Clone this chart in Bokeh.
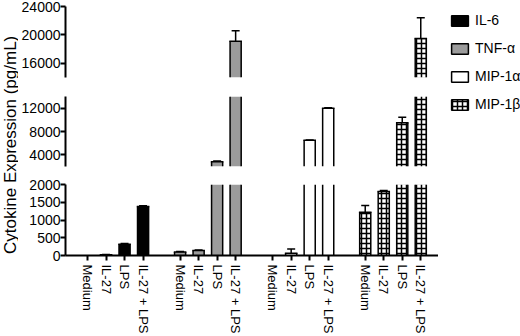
import math
from bokeh.plotting import figure
from bokeh.layouts import row, column
from bokeh.models import (FixedTicker, Range1d, Legend, LegendItem, Label, Spacer)
from bokeh.embed import file_html
from bokeh.resources import INLINE

# ---------------- data ----------------
treatments = ["Medium", "IL-27", "LPS", "IL-27 + LPS"]
cytokines = ["IL-6", "TNF-\u03b1", "MIP-1\u03b1", "MIP-1\u03b2"]

il6 = [0, 20, 320, 1380]
il6_err = [0, 5, 20, 20]
tnf = [100, 140, 2800, 19100]
tnf_err = [10, 15, 150, 1500]
mip1a = [0, 60, 6500, 12000]
mip1a_err = [0, 120, 60, 80]
mip1b = [1220, 1800, 9500, 19500]
mip1b_err = [190, 30, 950, 2900]

series_values = [il6, tnf, mip1a, mip1b]
series_errors = [il6_err, tnf_err, mip1a_err, mip1b_err]

top_range = (14000, 24000)
mid_range = (2000, 14000)
bot_range = (0, 2000)
top_ticks = [16000, 20000, 24000]
mid_ticks = [4000, 8000, 12000]
bot_ticks = [0, 500, 1000, 1500, 2000]

y_title = "Cytokine  Expression (pg/mL)"

# ---------------- styles ----------------
FONT = "Liberation Sans"
fills = ["black", "#9b9b9b", "white", "white"]
hatches = [None, None, None, "cross"]
BAR_W = 0.6
LW = 1.5

n_t = len(treatments)
group_step = n_t + 1
series_x = [[s * group_step + i for i in range(n_t)] for s in range(len(cytokines))]
all_x = [x for xs in series_x for x in xs]
labels = {x: treatments[i] for xs in series_x for i, x in enumerate(xs)}

x_range = Range1d(-1.19, all_x[-1] + 1.12)

FRAME_W = 376
LEFT_B = 44


def fill_kwargs(s):
    kw = dict(fill_color=fills[s])
    if hatches[s]:
        kw.update(hatch_pattern=hatches[s], hatch_color="black",
                  hatch_scale=5, hatch_weight=1.5, hatch_alpha=1.0)
    return kw


def style_axis(ax, size):
    ax.axis_line_width = 2
    ax.axis_line_color = "black"
    ax.major_tick_line_width = 2
    ax.major_tick_line_color = "black"
    ax.major_tick_in = 0
    ax.minor_tick_line_color = None
    ax.major_label_text_font = FONT
    ax.major_label_text_font_size = size
    ax.major_label_text_color = "black"


def draw_series(p, lo, hi):
    hw = BAR_W / 2
    for s in range(len(cytokines)):
        xs = series_x[s]
        vals = series_values[s]
        errs = series_errors[s]
        keep = [i for i in range(n_t) if vals[i] > lo]
        fx = [xs[i] for i in keep]
        ftop = [min(vals[i], hi) for i in keep]
        fbot = [max(0, lo) for i in keep]
        # bar body (fill only)
        p.vbar(x=fx, top=ftop, bottom=fbot, width=BAR_W, line_color=None, **fill_kwargs(s))
        # bar sides
        p.segment(x0=[x - hw for x in fx] + [x + hw for x in fx], y0=fbot + fbot,
                  x1=[x - hw for x in fx] + [x + hw for x in fx], y1=ftop + ftop,
                  line_color="black", line_width=LW)
        # bar top edge, only where the bar ends inside this panel
        tk = [i for i in keep if vals[i] <= hi]
        p.segment(x0=[xs[i] - hw for i in tk], y0=[vals[i] for i in tk],
                  x1=[xs[i] + hw for i in tk], y1=[vals[i] for i in tk],
                  line_color="black", line_width=LW, line_cap="square")
        # error bars (upper only)
        wk = [i for i in range(n_t) if errs[i] > 0 and vals[i] + errs[i] > lo and vals[i] < hi]
        p.segment(x0=[xs[i] for i in wk], y0=[max(vals[i], lo) for i in wk],
                  x1=[xs[i] for i in wk], y1=[min(vals[i] + errs[i], hi) for i in wk],
                  line_color="black", line_width=LW)
        dk = [i for i in wk if lo <= vals[i] + errs[i] <= hi]
        p.scatter(x=[xs[i] for i in dk], y=[vals[i] + errs[i] for i in dk],
                  marker="dash", size=8, line_color="black", line_width=LW)


def make_panel(rng, ticks, frame_h, b_top, b_bot, show_x):
    p = figure(frame_width=FRAME_W, frame_height=frame_h, x_range=x_range,
               y_range=Range1d(*rng), output_backend="svg", toolbar_location=None,
               min_border_left=LEFT_B, min_border_right=0,
               min_border_top=b_top, min_border_bottom=b_bot,
               x_axis_location="below" if show_x else None)
    p.outline_line_color = None
    p.xgrid.visible = False
    p.ygrid.visible = False
    p.background_fill_color = "white"
    p.border_fill_color = "white"
    draw_series(p, rng[0], rng[1])
    ya = p.yaxis[0]
    ya.ticker = FixedTicker(ticks=ticks)
    style_axis(ya, "14px")
    ya.major_tick_out = 5
    ya.major_label_standoff = 0
    if show_x:
        xa = p.xaxis[0]
        xa.ticker = FixedTicker(ticks=all_x)
        xa.major_label_overrides = labels
        xa.major_label_orientation = "vertical"
        style_axis(xa, "13px")
        xa.major_tick_out = 5
        xa.major_label_standoff = 4
    return p


p_top = make_panel(top_range, top_ticks, 71, 6, 9, False)
p_mid = make_panel(mid_range, mid_ticks, 70, 10, 9, False)
p_bot = make_panel(bot_range, bot_ticks, 71, 9, 80, True)

TOTAL_H = 86 + 89 + 160

# y-axis title
t_fig = figure(width=18, height=TOTAL_H, x_range=Range1d(0, 1), y_range=Range1d(0, 1),
               output_backend="svg", toolbar_location=None, min_border=0,
               x_axis_location=None, y_axis_location=None)
t_fig.outline_line_color = None
t_fig.xgrid.visible = False
t_fig.ygrid.visible = False
t_fig.add_layout(Label(x=9.5, y=TOTAL_H - 142, x_units="screen", y_units="screen",
                       text=y_title, angle=math.pi / 2, text_align="center",
                       text_baseline="middle", text_font=FONT,
                       text_font_size="17px", text_color="black"))

# legend
l_fig = figure(width=82, height=TOTAL_H - 4, x_range=Range1d(-100, -99), y_range=Range1d(0, 1),
               output_backend="svg", toolbar_location=None, min_border=0,
               x_axis_location=None, y_axis_location=None)
l_fig.outline_line_color = None
l_fig.xgrid.visible = False
l_fig.ygrid.visible = False
items = []
for s, name in enumerate(cytokines):
    r = l_fig.vbar(x=series_x[s], top=series_values[s], width=BAR_W,
                   line_color="black", line_width=LW, **fill_kwargs(s))
    r.visible = False
    items.append(LegendItem(label=name, renderers=[r]))
legend = Legend(items=items, location="top_left", margin=8, padding=0, spacing=12,
                glyph_width=21, glyph_height=13, label_height=16, label_standoff=5,
                border_line_color=None, background_fill_alpha=0,
                inactive_fill_alpha=0,
                label_text_font=FONT, label_text_font_size="14px",
                label_text_color="black")
l_fig.add_layout(legend)

layout = row(t_fig, column(p_top, p_mid, p_bot), column(Spacer(height=4), l_fig))

open("out.html", "w").write(file_html(layout, INLINE))
